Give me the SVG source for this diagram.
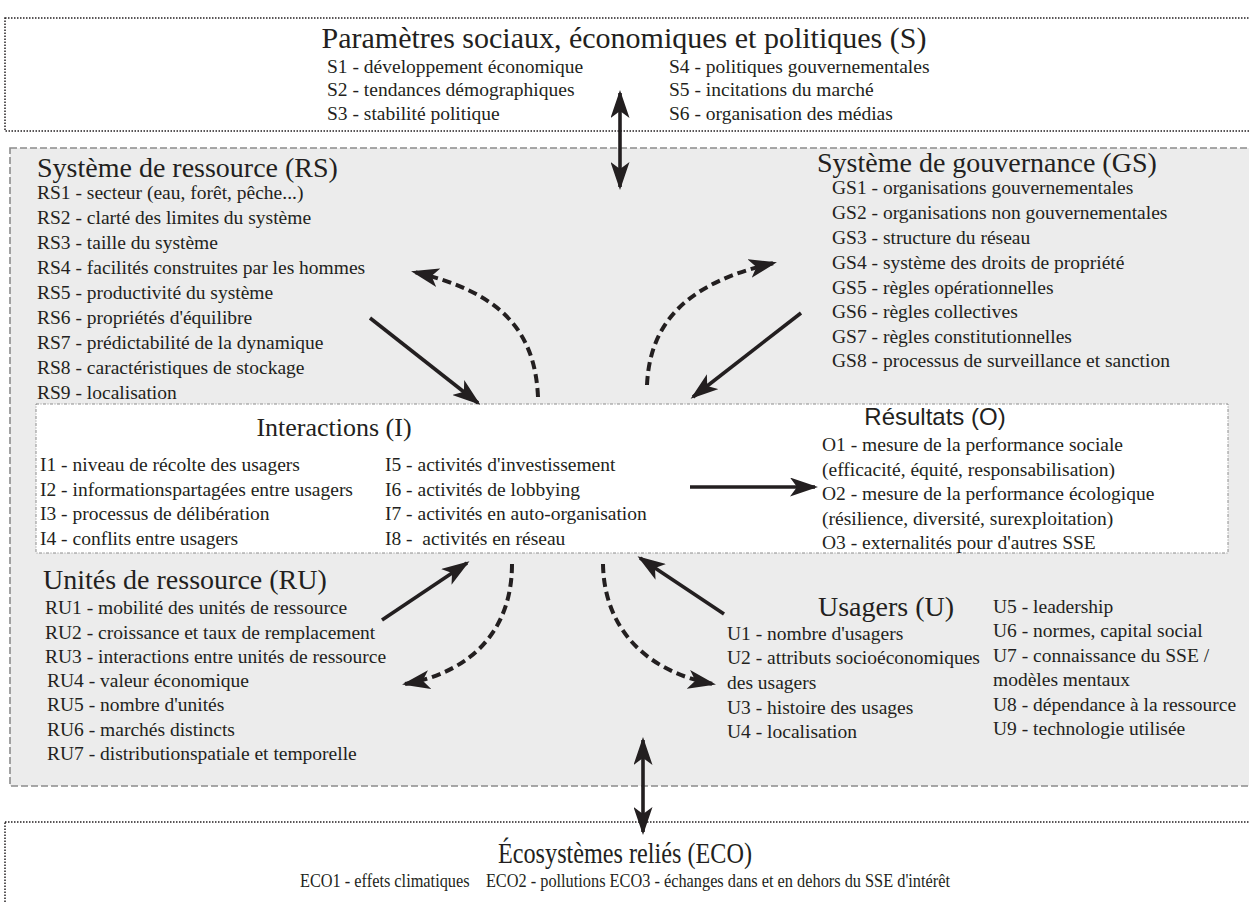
<svg xmlns="http://www.w3.org/2000/svg" width="1249" height="902" viewBox="0 0 1249 902">
<style>
text{font-family:"Liberation Serif","Times New Roman",serif;fill:#231f20}
.t{font-size:28px}
.i{font-size:19.5px}
.st{font-size:30px}
.sans{font-family:"Liberation Sans",Arial,sans-serif}
.dot{fill:#fff;stroke:#231f20;stroke-width:1.5;stroke-dasharray:1.5 1.5}
.gray{fill:#ececec;stroke:#8c8c8c;stroke-width:1.6;stroke-dasharray:7 3}
.dd{fill:#fff;stroke:#8c8c8c;stroke-width:1;stroke-dasharray:3 1.5 1 1.5}
.solid{fill:none;stroke:#231f20;stroke-width:3.6}
.dash{fill:none;stroke:#231f20;stroke-width:4;stroke-dasharray:9 5}
</style>
<defs>
<marker id="ah" markerUnits="userSpaceOnUse" markerWidth="28" markerHeight="19" viewBox="0 0 28 19" refX="25" refY="9.5" orient="auto-start-reverse">
<path d="M0,0 L28,9.5 L0,19 L7,9.5 z" fill="#231f20"/>
</marker>
</defs>
<rect width="1249" height="902" fill="#fff"/>

<g id="node-S">
<rect class="dot" x="5" y="18" width="1260" height="113"/>
<text class="st" x="624" y="48" text-anchor="middle">Paramètres sociaux, économiques et politiques (S)</text>
<text class="i" x="327" y="73">S1 - développement économique</text>
<text class="i" x="327" y="96">S2 - tendances démographiques</text>
<text class="i" x="327" y="120">S3 - stabilité politique</text>
<text class="i" x="669" y="73">S4 - politiques gouvernementales</text>
<text class="i" x="669" y="96">S5 - incitations du marché</text>
<text class="i" x="669" y="120">S6 - organisation des médias</text>
</g>

<g id="container-SSE">
<rect class="gray" x="10" y="148" width="1260" height="638"/>
</g>

<g id="node-RS">
<text class="t" x="37" y="177">Système de ressource (RS)</text>
<text class="i" x="37" y="199">RS1 - secteur (eau, forêt, pêche...)</text>
<text class="i" x="37" y="224">RS2 - clarté des limites du système</text>
<text class="i" x="37" y="249">RS3 - taille du système</text>
<text class="i" x="37" y="274">RS4 - facilités construites par les hommes</text>
<text class="i" x="37" y="299">RS5 - productivité du système</text>
<text class="i" x="37" y="324">RS6 - propriétés d'équilibre</text>
<text class="i" x="37" y="349">RS7 - prédictabilité de la dynamique</text>
<text class="i" x="37" y="374">RS8 - caractéristiques de stockage</text>
<text class="i" x="37" y="399">RS9 - localisation</text>
</g>

<g id="node-GS">
<text class="t" x="817" y="172">Système de gouvernance (GS)</text>
<text class="i" x="832" y="194">GS1 - organisations gouvernementales</text>
<text class="i" x="832" y="219">GS2 - organisations non gouvernementales</text>
<text class="i" x="832" y="244">GS3 - structure du réseau</text>
<text class="i" x="832" y="269">GS4 - système des droits de propriété</text>
<text class="i" x="832" y="294">GS5 - règles opérationnelles</text>
<text class="i" x="832" y="318">GS6 - règles collectives</text>
<text class="i" x="832" y="343">GS7 - règles constitutionnelles</text>
<text class="i" x="832" y="367">GS8 - processus de surveillance et sanction</text>
</g>

<g id="node-I">
<rect class="dd" x="36" y="404" width="1192" height="149"/>
<text x="334" y="436" text-anchor="middle" font-size="26">Interactions (I)</text>
<text class="i" x="40" y="471">I1 - niveau de récolte des usagers</text>
<text class="i" x="40" y="495.5">I2 - informationspartagées entre usagers</text>
<text class="i" x="40" y="520">I3 - processus de délibération</text>
<text class="i" x="40" y="544.5">I4 - conflits entre usagers</text>
<text class="i" x="385" y="471">I5 - activités d'investissement</text>
<text class="i" x="385" y="495.5">I6 - activités de lobbying</text>
<text class="i" x="385" y="520">I7 - activités en auto-organisation</text>
<text class="i" x="385" y="544.5" xml:space="preserve">I8 -  activités en réseau</text>
</g>

<g id="node-O">
<text class="sans" x="935" y="425" text-anchor="middle" font-size="24">Résultats (O)</text>
<text class="i" x="822" y="451">O1 - mesure de la performance sociale</text>
<text class="i" x="822" y="475.5">(efficacité, équité, responsabilisation)</text>
<text class="i" x="822" y="500">O2 - mesure de la performance écologique</text>
<text class="i" x="822" y="524.5">(résilience, diversité, surexploitation)</text>
<text class="i" x="822" y="549">O3 - externalités pour d'autres SSE</text>
</g>

<g id="node-RU">
<text class="t" x="43" y="589">Unités de ressource (RU)</text>
<text class="i" x="45" y="614">RU1 - mobilité des unités de ressource</text>
<text class="i" x="45" y="638.5">RU2 - croissance et taux de remplacement</text>
<text class="i" x="45" y="663">RU3 - interactions entre unités de ressource</text>
<text class="i" x="47" y="687">RU4 - valeur économique</text>
<text class="i" x="47" y="711">RU5 - nombre d'unités</text>
<text class="i" x="47" y="735.5">RU6 - marchés distincts</text>
<text class="i" x="47" y="760">RU7 - distributionspatiale et temporelle</text>
</g>

<g id="node-U">
<text class="t" x="886" y="616" text-anchor="middle">Usagers (U)</text>
<text class="i" x="727" y="640">U1 - nombre d'usagers</text>
<text class="i" x="727" y="664">U2 - attributs socioéconomiques</text>
<text class="i" x="727" y="689">des usagers</text>
<text class="i" x="727" y="714">U3 - histoire des usages</text>
<text class="i" x="727" y="738">U4 - localisation</text>
<text class="i" x="993" y="613">U5 - leadership</text>
<text class="i" x="993" y="637">U6 - normes, capital social</text>
<text class="i" x="993" y="662">U7 - connaissance du SSE /</text>
<text class="i" x="993" y="686">modèles mentaux</text>
<text class="i" x="993" y="711">U8 - dépendance à la ressource</text>
<text class="i" x="993" y="735">U9 - technologie utilisée</text>
</g>

<g id="node-ECO">
<rect class="dot" x="5" y="822" width="1260" height="100"/>
<text class="st" x="498" y="863" textLength="254" lengthAdjust="spacingAndGlyphs">Écosystèmes reliés (ECO)</text>
<text class="i" x="300" y="887" textLength="650" lengthAdjust="spacingAndGlyphs" xml:space="preserve">ECO1 - effets climatiques    ECO2 - pollutions ECO3 - échanges dans et en dehors du SSE d'intérêt</text>
</g>

<g id="connectors">
<path class="solid" d="M620,93 L620,187" marker-start="url(#ah)" marker-end="url(#ah)"/>
<path class="solid" d="M643,740 L643,832" marker-start="url(#ah)" marker-end="url(#ah)"/>
<path class="solid" d="M370,318 L478,403" marker-end="url(#ah)"/>
<path class="solid" d="M801,313 L693,397" marker-end="url(#ah)"/>
<path class="solid" d="M382,620 L467,563" marker-end="url(#ah)"/>
<path class="solid" d="M724,614 L640,558" marker-end="url(#ah)"/>
<path class="solid" d="M690,487 L815,487" marker-end="url(#ah)"/>
<path class="dash" d="M538,397 C535,330 500,292 414,272" marker-end="url(#ah)"/>
<path class="dash" d="M647,385 C650,320 690,282 774,263" marker-end="url(#ah)"/>
<path class="dash" d="M512,564 C512,630 472,672 405,684" marker-end="url(#ah)"/>
<path class="dash" d="M603,564 C604,630 648,672 713,684" marker-end="url(#ah)"/>
</g>
</svg>
